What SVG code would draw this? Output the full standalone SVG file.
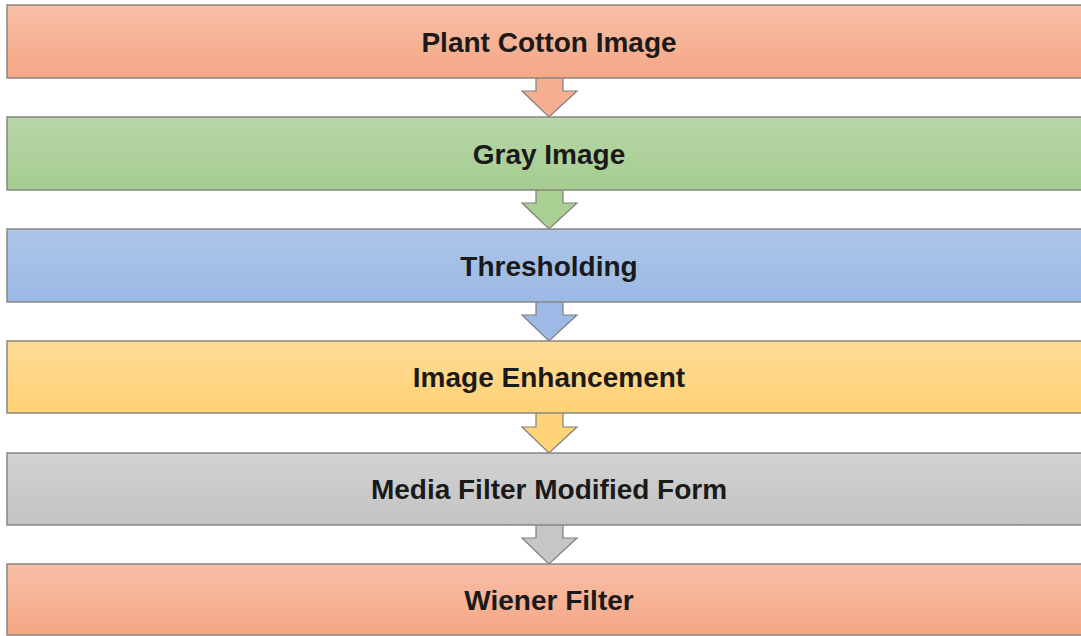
<svg xmlns="http://www.w3.org/2000/svg" width="1081" height="636" viewBox="0 0 1081 636">
<style>
.box{stroke:#8a8580;stroke-width:1.5}
.arr{stroke:#7f7f7f;stroke-width:1.2;stroke-linejoin:miter}
.lbl{font-family:"Liberation Sans",Arial,sans-serif;font-weight:bold;font-size:28px;fill:#1a1a1a;text-anchor:middle;dominant-baseline:central}
</style>
<defs>
<linearGradient id="gO" x1="0" y1="0" x2="0" y2="1"><stop offset="0" stop-color="#F8BEA7"/><stop offset="1" stop-color="#F4A785"/></linearGradient>
<linearGradient id="gG" x1="0" y1="0" x2="0" y2="1"><stop offset="0" stop-color="#B7D6A8"/><stop offset="1" stop-color="#A6CD90"/></linearGradient>
<linearGradient id="gB" x1="0" y1="0" x2="0" y2="1"><stop offset="0" stop-color="#ADC6E8"/><stop offset="1" stop-color="#9AB9E5"/></linearGradient>
<linearGradient id="gY" x1="0" y1="0" x2="0" y2="1"><stop offset="0" stop-color="#FFDB96"/><stop offset="1" stop-color="#FFD275"/></linearGradient>
<linearGradient id="gS" x1="0" y1="0" x2="0" y2="1"><stop offset="0" stop-color="#D2D2D2"/><stop offset="1" stop-color="#C3C3C3"/></linearGradient>
</defs>
<g id="connectors">
<path class="arr" fill="#F5AE90" d="M536,78 V91 H522 L549,117 L577,91 H563 V78"/>
<path class="arr" fill="#A9CF93" d="M536,190 V203 H522 L549,229 L577,203 H563 V190"/>
<path class="arr" fill="#9CBAE5" d="M536,302 V315 H522 L549,341 L577,315 H563 V302"/>
<path class="arr" fill="#FFD478" d="M536,413 V427 H522 L549,453 L577,427 H563 V413"/>
<path class="arr" fill="#C6C6C6" d="M536,525 V538 H522 L549,564 L577,538 H563 V525"/>
</g>
<g id="n1"><rect class="box" x="7" y="5" width="1080" height="73" fill="url(#gO)"/><text class="lbl" x="549" y="42">Plant Cotton Image</text></g>
<g id="n2"><rect class="box" x="7" y="117" width="1080" height="73" fill="url(#gG)"/><text class="lbl" x="549" y="154">Gray Image</text></g>
<g id="n3"><rect class="box" x="7" y="229" width="1080" height="73" fill="url(#gB)"/><text class="lbl" x="549" y="266">Thresholding</text></g>
<g id="n4"><rect class="box" x="7" y="341" width="1080" height="72" fill="url(#gY)"/><text class="lbl" x="549" y="377">Image Enhancement</text></g>
<g id="n5"><rect class="box" x="7" y="453" width="1080" height="72" fill="url(#gS)"/><text class="lbl" x="549" y="489">Media Filter Modified Form</text></g>
<g id="n6"><rect class="box" x="7" y="564" width="1080" height="71" fill="url(#gO)"/><text class="lbl" x="549" y="600">Wiener Filter</text></g>
</svg>
